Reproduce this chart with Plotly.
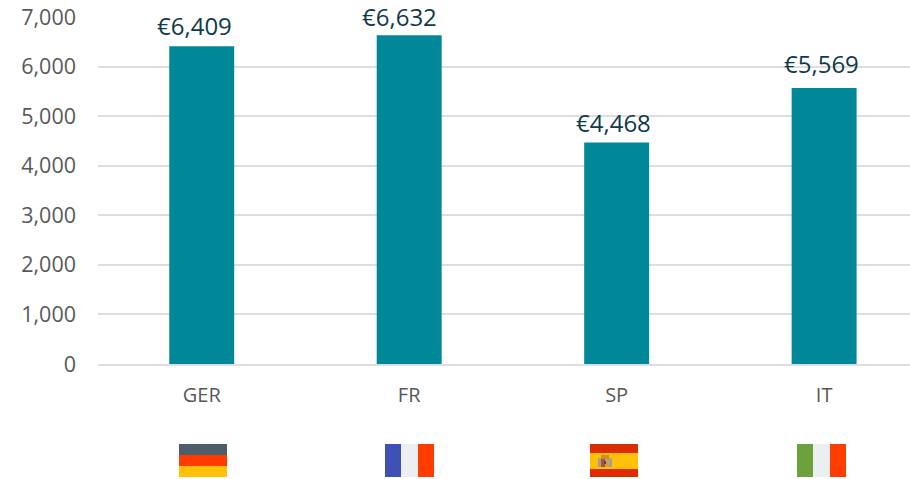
import plotly.graph_objects as go

categories = ["GER", "FR", "SP", "IT"]
values = [6409, 6632, 4468, 5569]
labels = ["€6,409", "€6,632", "€4,468", "€5,569"]
tick_values = [0, 1000, 2000, 3000, 4000, 5000, 6000, 7000]
label_shift_x = [-7, -9.5, -3, -3]
label_shift_y = [20.5, 19, 20.5, 24.5]

L, T, R, B = 98, 17, 910, 364
W, H = 910, 479


def px(x0, y0, x1, y1, color):
    return dict(
        type="rect", xref="paper", yref="paper", layer="above",
        x0=(x0 - L) / (R - L), x1=(x1 - L) / (R - L),
        y0=(B - y0) / (B - T), y1=(B - y1) / (B - T),
        fillcolor=color, line_width=0,
    )


flags = [
    (179, 444, 227, 455, "#4A5F6B"), (179, 455, 227, 466, "#FF3B00"), (179, 466, 227, 477, "#FFC107"),
    (385, 444, 401, 477, "#3F51B5"), (401, 444, 418, 477, "#ECEFF1"), (418, 444, 434, 477, "#FF3D00"),
    (590, 444, 638, 453, "#DD2C00"), (590, 453, 638, 469, "#FFC107"), (590, 469, 638, 477, "#DD2C00"),
    (598, 458, 601, 467, "#A89F90"), (609, 458, 612, 467, "#A89F90"),
    (601, 455, 609, 459, "#D98A1E"), (601, 459, 605, 467, "#B5502A"), (605, 459, 609, 467, "#C9A24A"),
    (604, 461, 606, 464, "#5A3A7A"),
    (797, 444, 813, 477, "#6DA13C"), (813, 444, 830, 477, "#ECEFF1"), (830, 444, 846, 477, "#FF3D00"),
]

fig = go.Figure(go.Bar(
    x=categories, y=values, cliponaxis=False,
    marker=dict(color="#008899", line_width=0), width=0.313,
    hoverinfo="skip",
))
for c, v, t, dx, dy in zip(categories, values, labels, label_shift_x, label_shift_y):
    fig.add_annotation(
        x=c, y=v, text=t, showarrow=False, xshift=dx, yshift=dy, yanchor="middle",
        font=dict(family="Open Sans", size=24, color="#0F3A4A"),
    )
fig.update_layout(
    width=W, height=479, autosize=False,
    margin=dict(l=L, r=W - R, t=T, b=H - B, pad=0),
    plot_bgcolor="white", paper_bgcolor="white", showlegend=False,
    shapes=[px(*f) for f in flags],
    xaxis=dict(
        type="category", range=[-0.5, 3.414], showgrid=False, showline=True,
        linecolor="#DEDEDE", linewidth=2, ticks="", ticklabelstandoff=12,
        tickfont=dict(family="Open Sans", size=20, color="#595959"),
    ),
    yaxis=dict(
        range=[0, 7000], tickvals=tick_values, tickformat=",", showgrid=True,
        gridcolor="#DEDEDE", gridwidth=2, zeroline=False, showline=False, ticks="",
        ticklabelstandoff=21,
        tickfont=dict(family="Open Sans", size=21.5, color="#595959"),
    ),
)
fig.write_html("out.html", config={"displayModeBar": False}, post_script="document.body.style.margin='0';")
